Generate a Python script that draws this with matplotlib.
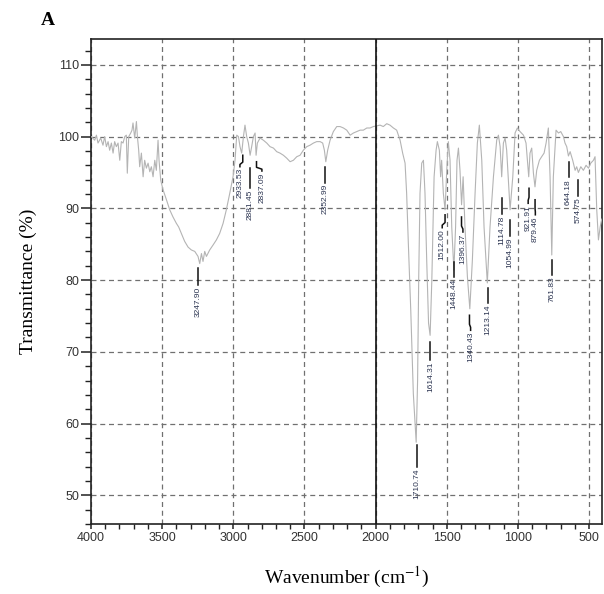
import matplotlib
matplotlib.use("Agg")
import matplotlib.pyplot as plt
from matplotlib.ticker import MultipleLocator

# ---- data ----
wavenumber = [
    3998, 3974, 3962, 3951, 3932, 3916, 3904, 3892, 3880, 3869, 3857, 3845, 3834, 3822, 3810,
    3798, 3787, 3775, 3763, 3752, 3745, 3735, 3721, 3712, 3705, 3693, 3681, 3674, 3665, 3658,
    3646, 3634, 3623, 3611, 3599, 3587, 3576, 3564, 3552, 3541, 3529, 3522, 3510, 3494, 3470,
    3447, 3424, 3400, 3384, 3365, 3342, 3318, 3295, 3271, 3248, 3236, 3224, 3213, 3201, 3189,
    3166, 3142, 3119, 3096, 3072, 3049, 3025, 3002, 2988, 2976, 2964, 2953, 2941, 2929, 2918,
    2906, 2894, 2882, 2871, 2859, 2847, 2840, 2831, 2812, 2789, 2765, 2742, 2718, 2695, 2672,
    2648, 2625, 2601, 2578, 2554, 2531, 2508, 2484, 2461, 2437, 2414, 2390, 2372, 2360, 2350,
    2337, 2320, 2297, 2273, 2250, 2226, 2203, 2179, 2156, 2133, 2109, 2086, 2062, 2039, 2016,
    1992, 1969, 1946, 1922, 1899, 1875, 1852, 1828, 1810, 1793, 1782, 1770, 1753, 1735, 1715,
    1705, 1697, 1688, 1676, 1664, 1653, 1641, 1628, 1617, 1605, 1589, 1575, 1566, 1552, 1543,
    1536, 1524, 1512, 1500, 1489, 1477, 1465, 1450, 1438, 1428, 1418, 1407, 1396, 1385, 1372,
    1355, 1338, 1320, 1301, 1285, 1271, 1254, 1238, 1215, 1196, 1172, 1149, 1137, 1125, 1114,
    1102, 1090, 1079, 1055, 1036, 1020, 1004, 985, 961, 943, 924, 915, 903, 891, 880,
    868, 849, 833, 816, 802, 786, 774, 762, 751, 732, 715, 699, 680, 669, 657,
    645, 633, 615, 598, 587, 575, 558, 540, 521, 504, 488, 469, 458, 446, 434,
    422, 411,
]
transmittance = [
    100.0, 99.5, 100.2, 99.1, 99.8, 98.8, 100.0, 98.6, 99.3, 98.1, 99.1, 97.7, 99.3, 98.6, 99.1,
    96.7, 99.3, 99.1, 100.0, 100.2, 94.9, 100.0, 100.5, 100.9, 101.9, 99.8, 102.1, 100.0, 98.1, 95.8,
    97.7, 94.4, 96.7, 95.6, 96.3, 95.1, 95.8, 94.4, 96.7, 95.3, 99.5, 96.7, 93.9, 92.6, 91.2,
    89.8, 88.8, 87.9, 87.4, 86.5, 85.4, 84.6, 84.2, 84.0, 83.3, 82.3, 83.7, 82.6, 84.0, 83.3,
    84.2, 84.9, 85.6, 86.5, 87.9, 89.8, 92.1, 94.4, 96.7, 100.2, 100.0, 98.6, 97.7, 100.0, 101.6,
    100.0, 99.1, 97.4, 98.6, 100.0, 100.5, 97.4, 99.1, 99.8, 99.5, 99.1, 98.6, 98.4, 97.9, 97.7,
    97.4, 97.0, 96.5, 96.7, 97.2, 97.4, 98.1, 98.6, 98.8, 99.1, 99.3, 99.3, 99.1, 98.1, 96.5,
    98.1, 99.5, 100.7, 101.4, 101.4, 101.2, 100.9, 100.2, 100.5, 100.7, 100.9, 100.9, 101.2, 101.2, 101.4,
    101.5, 101.6, 101.4, 101.8, 101.6, 101.2, 100.9, 99.5, 97.7, 96.3, 92.1, 85.1, 75.8, 64.2, 57.4,
    66.0, 80.5, 92.1, 96.3, 96.7, 92.1, 82.8, 74.0, 72.3, 80.0, 94.4, 98.1, 99.3, 98.1, 94.4,
    96.7, 92.1, 89.8, 95.3, 99.3, 96.7, 87.4, 81.4, 87.4, 96.7, 98.4, 95.3, 90.5, 94.4, 87.4,
    80.5, 76.0, 82.8, 92.1, 99.1, 101.6, 96.7, 87.4, 79.6, 87.4, 94.4, 99.5, 100.2, 98.6, 94.4,
    99.1, 99.8, 98.1, 89.8, 94.4, 100.5, 101.2, 100.7, 100.2, 99.1, 94.4, 97.7, 98.4, 94.9, 93.0,
    95.3, 96.7, 97.2, 97.7, 99.1, 101.2, 94.4, 83.5, 94.4, 100.9, 100.5, 100.7, 100.0, 99.1, 98.6,
    97.3, 97.9, 96.7, 95.3, 95.8, 95.0, 95.8, 95.3, 96.0, 95.6, 96.3, 96.7, 97.2, 89.8, 85.6,
    87.4, 88.5,
]

peak_labels = ["3247.90", "2933.53", "2881.45", "2837.09", "2352.99", "1710.74", "1614.31",
               "1512.00", "1448.44", "1396.37", "1340.43", "1213.14", "1114.78", "1054.99",
               "921.91", "879.46", "761.83", "644.18", "574.75"]
peak_wn = [3247.90, 2933.53, 2881.45, 2837.09, 2352.99, 1710.74, 1614.31,
           1512.00, 1448.44, 1396.37, 1340.43, 1213.14, 1114.78, 1054.99,
           921.91, 879.46, 761.83, 644.18, 574.75]
peak_T = [81.7, 97.4, 95.6, 96.5, 95.8, 57.0, 71.4,
          89.1, 82.5, 88.8, 75.1, 78.9, 91.5, 88.4,
          92.8, 91.2, 82.8, 96.5, 94.0]

x_ticks = [4000, 3500, 3000, 2500, 2000, 1500, 1000, 500]
y_ticks = [50, 60, 70, 80, 90, 100, 110]

# annotation layout (leader length in % units, text shift in cm-1)
leader_len = [2.4, 1.6, 2.8, 1.3, 2.2, 3.0, 2.5,
              1.8, 2.1, 2.1, 2.1, 2.1, 2.3, 2.3,
              2.1, 2.1, 2.1, 2.2, 2.3]
text_shift = [0, 20, 0, -38, 0, 0, 0,
              20, 0, -10, -8, 0, 0, 0,
              6, -2, 0, 0, 0]

plt.rcParams['mathtext.fontset'] = 'stix'

fig = plt.figure(figsize=(6.04, 5.94), dpi=100)
ax = fig.add_axes([0.1507, 0.1178, 0.846, 0.8165])

ax.plot(wavenumber, transmittance, color='#b4b4b4', lw=0.8, zorder=3)

ax.set_xlim(4000, 409)
ax.set_ylim(46.0, 113.6)

ax.set_xticks(x_ticks)
ax.set_yticks(y_ticks)
ax.xaxis.set_minor_locator(MultipleLocator(100))
ax.yaxis.set_minor_locator(MultipleLocator(2))

ax.grid(True, which='major', linestyle=(0, (4, 3)), color='#707070', lw=0.9, zorder=1)
ax.axvline(2000, color='#111111', lw=1.2, zorder=4)

for s in ax.spines.values():
    s.set_color('#222222')
    s.set_linewidth(1.2)

ax.tick_params(axis='y', which='major', direction='out', length=7, width=1.1, color='#222222',
               labelcolor='#333333', labelsize=9, pad=1.5)
ax.tick_params(axis='y', which='minor', direction='out', length=4.5, width=1.0, color='#222222')
ax.tick_params(axis='x', which='major', direction='out', length=3.5, width=1.1, color='#222222',
               labelcolor='#333333', labelsize=9, pad=2.5)
ax.tick_params(axis='x', which='minor', direction='out', length=3.5, width=1.0, color='#222222')
for lab in ax.get_xticklabels() + ax.get_yticklabels():
    lab.set_fontfamily('Liberation Sans')

for lbl, wn, t, ln, dx in zip(peak_labels, peak_wn, peak_T, leader_len, text_shift):
    if dx == 0:
        ax.plot([wn, wn], [t, t - ln], color='#111111', lw=1.1, zorder=5)
    else:
        ax.plot([wn, wn, wn + dx, wn + dx], [t, t - ln * 0.6, t - ln * 0.8, t - ln],
                color='#111111', lw=1.1, zorder=5)
    ax.text(wn + dx, t - ln - 0.2, lbl, rotation=90, ha='center', va='top', fontsize=6,
            family='Liberation Sans', color='#2a3350', zorder=5)

ax.set_xlabel('Wavenumber (cm$^{\\mathrm{-1}}$)', family='Liberation Serif', fontsize=14,
              labelpad=15)
ax.set_ylabel('Transmittance (%)', family='Liberation Serif', fontsize=14, labelpad=15)

fig.text(0.068, 0.965, 'A', family='Liberation Serif', fontweight='bold', fontsize=14,
         ha='left', va='center')

fig.savefig('out.png', dpi=100)
